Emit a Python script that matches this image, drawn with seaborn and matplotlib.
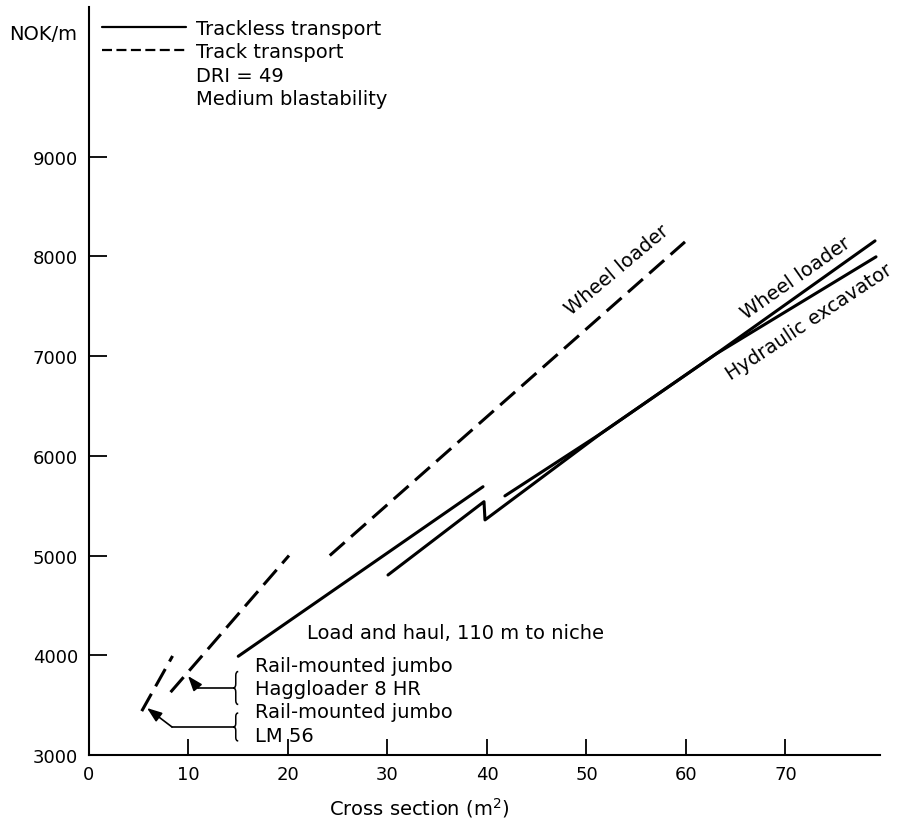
import numpy as np
import pandas as pd
import seaborn as sns
import matplotlib
matplotlib.use("Agg")
import matplotlib.pyplot as plt
from matplotlib.lines import Line2D
from matplotlib.path import Path
from matplotlib.patches import PathPatch

# ---- data: excavation cost (NOK/m) against tunnel cross section (m2) ----
# track transport (rail-mounted jumbo + loaders)
lm56_x = [5.3, 8.4]
lm56_y = [3440, 3993]
haggloader_x = [8.2, 20.1]
haggloader_y = [3630, 5000]
track_wheel_x = [24.2, 59.9]
track_wheel_y = [5000, 8145]
# trackless transport
load_haul_x = [15.0, 39.6]
load_haul_y = [3990, 5690]
excavator_x = [30.05, 39.7, 39.8, 51.4, 63.0, 79.1]
excavator_y = [4805, 5540, 5357, 6220, 7020, 7995]
trackless_wheel_x = [41.8, 51.4, 63.0, 79.0]
trackless_wheel_y = [5598, 6220, 7020, 8155]

x_ticks = [0, 10, 20, 30, 40, 50, 60, 70]
y_ticks = [3000, 4000, 5000, 6000, 7000, 8000, 9000]

segments = [
    ("lm56", "Track transport", lm56_x, lm56_y),
    ("haggloader", "Track transport", haggloader_x, haggloader_y),
    ("track wheel loader", "Track transport", track_wheel_x, track_wheel_y),
    ("load and haul", "Trackless transport", load_haul_x, load_haul_y),
    ("hydraulic excavator", "Trackless transport", excavator_x, excavator_y),
    ("trackless wheel loader", "Trackless transport", trackless_wheel_x, trackless_wheel_y),
]
rows = []
for name, transport, xs, ys in segments:
    for i, (xv, yv) in enumerate(zip(xs, ys)):
        rows.append({"seg": name, "transport": transport, "order": i, "x": xv, "y": yv})
df = pd.DataFrame(rows)

sns.set_style("ticks")
plt.rcParams["font.family"] = ["DejaVu Sans"]
plt.rcParams["text.color"] = "black"
plt.rcParams["axes.labelcolor"] = "black"
plt.rcParams["xtick.color"] = "black"
plt.rcParams["ytick.color"] = "black"

fig = plt.figure(figsize=(9, 8.2), dpi=100)
ax = fig.add_axes([89 / 900, 64 / 820, 791 / 900, 748 / 820])

sns.lineplot(
    data=df, x="x", y="y", units="seg", style="transport", estimator=None,
    sort=False, color="black", linewidth=2.2,
    dashes={"Trackless transport": "", "Track transport": (6.5, 2.8)},
    legend=False, ax=ax,
)

ax.set_xlim(0, 79.5)
ax.set_ylim(3000, 10500)
ax.set_xticks(x_ticks)
ax.set_yticks(y_ticks)
ax.set_xticklabels([str(v) for v in x_ticks], fontsize=13)
ax.set_yticklabels([str(v) for v in y_ticks], fontsize=13)
ax.tick_params(axis="both", direction="in", width=1.3, color="black", labelcolor="black")
ax.tick_params(axis="x", length=11.5, pad=7)
ax.tick_params(axis="y", length=13, pad=8)
for side in ("top", "right"):
    ax.spines[side].set_visible(False)
for side in ("left", "bottom"):
    ax.spines[side].set_linewidth(1.5)
    ax.spines[side].set_color("black")

ax.set_xlabel("Cross section (m$^2$)", fontsize=14, color="black")
ax.xaxis.set_label_coords(0.418, -0.054)
ax.set_ylabel("NOK/m", fontsize=14, rotation=0, ha="right", va="baseline", color="black")
ax.yaxis.set_label_coords(-0.015, 0.957)

# legend block
handles = [
    Line2D([], [], color="black", lw=1.6),
    Line2D([], [], color="black", lw=1.6, ls=(0, (4.5, 2))),
    Line2D([], [], color="none"),
    Line2D([], [], color="none"),
]
labels = ["Trackless transport", "Track transport", "DRI = 49", "Medium blastability"]
leg = ax.legend(handles, labels, loc="upper left", bbox_to_anchor=(102 / 900, 1 - 20 / 820),
                bbox_transform=fig.transFigure, frameon=False, fontsize=14,
                handlelength=4.3, handletextpad=0.55, labelspacing=0.22,
                borderaxespad=0, borderpad=0)
for t in leg.get_texts():
    t.set_color("black")

# line labels
ax.text(53.1, 7875, "Wheel loader", rotation=40, rotation_mode="anchor",
        ha="center", va="center", fontsize=14)
ax.text(71.0, 7785, "Wheel loader", rotation=35, rotation_mode="anchor",
        ha="center", va="center", fontsize=14)
ax.text(72.4, 7353, "Hydraulic excavator", rotation=33.5, rotation_mode="anchor",
        ha="center", va="center", fontsize=14)
ax.text(21.9, 4173, "Load and haul, 110 m to niche", ha="left", va="baseline", fontsize=14)

note_lines = ["Rail-mounted jumbo", "Haggloader 8 HR", "Rail-mounted jumbo", "LM 56"]
note_y = [3843, 3612, 3381, 3140]
for txt, yv in zip(note_lines, note_y):
    ax.text(16.7, yv, txt, ha="left", va="baseline", fontsize=14)


def brace(ax, x_tip, yc, half, width=0.5):
    """Curly bracket '{' whose tip sits at (x_tip, yc)."""
    xm = x_tip + width / 2
    xr = x_tip + width
    q = half * 0.25
    verts = [(xr, yc + half), (xm, yc + half), (xm, yc + half - q),
             (xm, yc + q),
             (xm, yc), (x_tip, yc),
             (xm, yc), (xm, yc - q),
             (xm, yc - half + q),
             (xm, yc - half), (xr, yc - half)]
    codes = [Path.MOVETO, Path.CURVE3, Path.CURVE3,
             Path.LINETO,
             Path.CURVE3, Path.CURVE3,
             Path.CURVE3, Path.CURVE3,
             Path.LINETO,
             Path.CURVE3, Path.CURVE3]
    ax.add_patch(PathPatch(Path(verts, codes), fill=False, lw=1.1, color="black"))


# pointers from the notes to the track-transport lines
pointers = [
    # brace tip x, brace centre y, brace half height, corner, arrow tip
    (14.5, 3672, 165, (10.95, 3672), (9.95, 3792)),
    (14.5, 3281, 140, (8.34, 3281), (5.83, 3471)),
]
for bx, by, bh, corner, tip in pointers:
    brace(ax, bx, by, bh)
    ax.plot([bx, corner[0]], [by, corner[1]], color="black", lw=1.2)
    ax.annotate("", xy=tip, xytext=corner,
                arrowprops=dict(arrowstyle="-|>,head_length=0.6,head_width=0.22",
                                color="black", lw=1.2, mutation_scale=15,
                                shrinkA=0, shrinkB=0))

fig.savefig("out.png", dpi=100, facecolor="white")
